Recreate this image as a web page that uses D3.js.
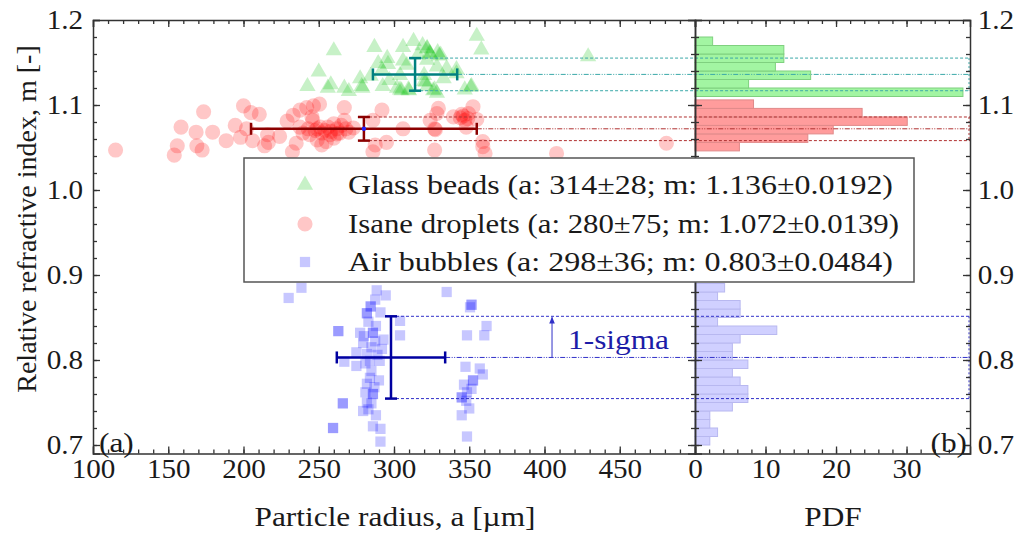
<!DOCTYPE html>
<html>
<head>
<meta charset="utf-8">
<script src="https://cdn.jsdelivr.net/npm/d3@7"></script>
<style>
  body { margin: 0; background: #fff; }
  svg text { font-family: "Liberation Serif", "Times New Roman", serif; fill: #1a1a1a; }
</style>
</head>
<body>
<script>
const w = 1017;
const h = 533;

// scatter points [a (um), m]
const glassPts = [
  [355,1.181],[358,1.165],[260,1.164],[287,1.168],[306,1.168],[313,1.175],[319,1.170],[322,1.167],
  [323.5,1.161],[329,1.162],[331,1.159],[295.5,1.155],[289.5,1.149],[296,1.148],[306,1.152],[308.5,1.147],
  [316,1.159],[322,1.153],[328.5,1.145],[335,1.143],[341.5,1.142],[250,1.139],[277.5,1.131],[284.5,1.134],
  [292,1.141],[297,1.129],[304,1.135],[320,1.135],[333,1.131],[242.5,1.122],[256,1.120],[258,1.124],
  [267,1.120],[270,1.116],[279,1.120],[278.5,1.122],[292.5,1.122],[302,1.120],[304,1.118],[309.5,1.118],
  [322,1.122],[327,1.118],[328.5,1.114],[347,1.118],[351.5,1.122],[429,1.157],[320,1.128],[341.5,1.137],
  [324,1.160],[330,1.158],[305,1.117],[310,1.117],[326,1.117],[351,1.121],[321,1.127],[322,1.166]
];
const dropPts = [
  [115,1.047],[154,1.041],[156,1.052],[158.5,1.074],[168.5,1.068],[169,1.052],[172.5,1.047],[173.5,1.092],
  [179.5,1.068],[188.5,1.058],[194.5,1.076],[200,1.099],[205,1.091],[210.5,1.089],[202,1.072],[198,1.062],
  [206,1.058],[214,1.052],[216.5,1.056],[216,1.065],[224,1.063],[229,1.081],[233,1.088],[235,1.055],
  [232.5,1.045],[237.5,1.094],[242,1.097],[246.5,1.099],[250.5,1.101],[245.5,1.086],[237.5,1.074],
  [246,1.082],[239.5,1.067],[244,1.065],[247.5,1.070],[251,1.074],[252,1.067],[254,1.070],[257.5,1.065],
  [260,1.078],[262,1.072],[264,1.067],[267,1.097],[267,1.082],[268,1.072],[249,1.059],[255,1.057],
  [252,1.053],[260,1.061],[273,1.073],[286,1.082],[287.5,1.053],[286,1.045],[292,1.094],[295,1.056],
  [306,1.072],[324,1.082],[327,1.072],[327.5,1.071],[329.5,1.096],[328.5,1.090],[327,1.047],[339.5,1.086],
  [344,1.085],[346,1.087],[347,1.082],[349,1.084],[345,1.089],[349.5,1.090],[352.5,1.098],[355,1.083],
  [348,1.074],[359,1.057],[359,1.051],[360.5,1.043],[408,1.043],[481,1.055],
  [256,1.074],[258,1.069],[249,1.072],[262,1.066],[243,1.072],[265,1.076],[270,1.068]
];
const bubblePts = [
  [230,0.873],[238.5,0.885],[288.5,0.882],[294.5,0.876],[287.5,0.871],[284.5,0.863],[282,0.855],[291,0.856],
  [263,0.834],[277.5,0.832],[286,0.832],[287.5,0.822],[293,0.824],[279.5,0.820],[285,0.815],[292,0.813],
  [275,0.809],[282,0.807],[267,0.798],[275,0.793],[284,0.799],[290.5,0.799],[285,0.787],[284,0.779],
  [290,0.776],[282,0.772],[281,0.762],[286,0.760],[266,0.749],[282,0.750],[285,0.749],[279.5,0.740],
  [288,0.735],[259.5,0.720],[286,0.722],[291,0.719],[291,0.704],[304,0.846],[304,0.829],
  [351.5,0.865],[350.5,0.862],[361.5,0.840],[348.5,0.829],[360,0.829],[347.5,0.792],[357,0.790],
  [359,0.783],[352.5,0.776],[346.5,0.771],[351.5,0.766],[348.5,0.762],[345,0.756],[348,0.752],
  [350,0.743],[345,0.735],[348.5,0.710],[335,0.880],
  [284.5,0.863],[282,0.855],[263,0.834],[286,0.832],[286,0.760],[266,0.749],[259.5,0.720],
  [351.5,0.865],[352.5,0.776],[345,0.756],
  [283,0.845],[288,0.840],[280,0.828],[289,0.806],[281,0.796],[287,0.768],[283,0.742]
];

// histograms: lower bin edge of m, PDF value (bins 0.01 wide)
const glassBins = [1.11,1.12,1.13,1.14,1.15,1.16,1.17];
const glassPdf  = [38.0,7.6,16.4,11.4,12.6,12.6,2.5];
const dropBins  = [1.046,1.056,1.066,1.076,1.086,1.096];
const dropPdf   = [6.3,16.0,19.6,30.1,23.7,8.3];
const bubbleBins = [0.70,0.71,0.72,0.73,0.74,0.75,0.76,0.77,0.78,0.79,0.80,0.81,0.82,0.83,0.84,0.85,0.86,0.87,0.88];
const bubblePdf  = [2.1,3.2,2.1,2.1,5.3,7.5,7.5,6.4,5.3,7.5,5.3,5.3,6.4,11.6,3.2,6.4,6.4,3.2,4.2];

// statistics
const groups = ["Glass beads","Isane droplets","Air bubbles"];
const meanA = [314,280,298];
const sdA   = [28,75,36];
const meanM = [1.136,1.072,0.803];
const sdM   = [0.0192,0.0139,0.0484];

// axis ticks
const aTicks = [100,150,200,250,300,350,400,450];
const mTicks = [0.7,0.8,0.9,1.0,1.1,1.2];
const pdfTicks = [0,10,20,30];

const sigmaArrowA = 405; // position of the 1-sigma arrow

const svg = d3.select("body").append("svg").attr("width", w).attr("height", h);

const xA = d3.scaleLinear().domain([100, 500]).range([93, 695]);
const xP = d3.scaleLinear().domain([0, 39]).range([695, 970]);
const y = d3.scaleLinear().domain([0.69, 1.2]).range([453.5, 20]);

const fills = ["#00c000", "#ff0000", "#0000ff"];
const barFill = ["#a2f5a2", "#ff9c9c", "#d0d0ff"];
const barStroke = ["#7fd07f", "#e08a8a", "#b8b8f0"];
const errCol = ["#008080", "#8b0000", "#0000a0"];
const lineCol = ["#3aa8a8", "#b03030", "#3030c8"];

const fontSize = 28;
const tickFont = 26.5;
const stretch = "scale(1.12,1)";     // text in the picture is a little wider than the font
const tickStretch = "scale(1.1,1)";

// histograms
const hists = [[glassBins, glassPdf], [dropBins, dropPdf], [bubbleBins, bubblePdf]];
hists.forEach(([bins, pdf], gi) => {
  svg.append("g").selectAll("rect")
    .data(bins.map((b, i) => [b, pdf[i]]))
    .enter()
    .append("rect")
    .attr("x", xP(0))
    .attr("y", d => y(d[0] + 0.01))
    .attr("width", d => xP(d[1]) - xP(0))
    .attr("height", d => y(d[0]) - y(d[0] + 0.01))
    .attr("fill", barFill[gi])
    .attr("stroke", barStroke[gi])
    .attr("stroke-width", 1);
});

// scatter
const sym = [d3.symbolTriangle, d3.symbolCircle, d3.symbolSquare];
const symSize = [115, 180, 105];
[glassPts, dropPts, bubblePts].forEach((pts, gi) => {
  svg.append("g").selectAll("path")
    .data(pts)
    .enter()
    .append("path")
    .attr("d", d3.symbol().type(sym[gi]).size(symSize[gi]))
    .attr("transform", d => "translate(" + xA(d[0]) + "," + y(d[1]) + ")")
    .attr("fill", fills[gi])
    .attr("fill-opacity", 0.22);
});

// mean / sigma reference lines
groups.forEach((g, gi) => {
  const gl = svg.append("g").attr("stroke", lineCol[gi]).attr("stroke-width", 1).attr("fill", "none");
  [meanM[gi] + sdM[gi], meanM[gi] - sdM[gi]].forEach(m => {
    gl.append("line")
      .attr("x1", xA(meanA[gi])).attr("x2", xP(39))
      .attr("y1", y(m)).attr("y2", y(m))
      .attr("stroke-dasharray", "3,2");
  });
  gl.append("line")
    .attr("x1", xA(meanA[gi] + sdA[gi])).attr("x2", xP(39))
    .attr("y1", y(meanM[gi])).attr("y2", y(meanM[gi]))
    .attr("stroke-dasharray", "5,1.5,1,1.5,1,1.5");
  gl.append("line")
    .attr("x1", xP(39) - 1).attr("x2", xP(39) - 1)
    .attr("y1", y(meanM[gi] + sdM[gi])).attr("y2", y(meanM[gi] - sdM[gi]))
    .attr("stroke-dasharray", "2,2");
});

// error bars
groups.forEach((g, gi) => {
  const ge = svg.append("g").attr("stroke", errCol[gi]).attr("stroke-width", 2.5);
  const cx = xA(meanA[gi]), cy = y(meanM[gi]);
  const x0 = xA(meanA[gi] - sdA[gi]), x1 = xA(meanA[gi] + sdA[gi]);
  const y0 = y(meanM[gi] - sdM[gi]), y1 = y(meanM[gi] + sdM[gi]);
  ge.append("line").attr("x1", x0).attr("x2", x1).attr("y1", cy).attr("y2", cy);
  ge.append("line").attr("x1", cx).attr("x2", cx).attr("y1", y0).attr("y2", y1);
  [x0, x1].forEach(x => ge.append("line").attr("x1", x).attr("x2", x).attr("y1", cy - 6).attr("y2", cy + 6));
  [y0, y1].forEach(yy => ge.append("line").attr("x1", cx - 6).attr("x2", cx + 6).attr("y1", yy).attr("y2", yy));
});
svg.append("circle").attr("cx", xA(meanA[1])).attr("cy", y(meanM[1])).attr("r", 2.2).attr("fill", "#2020ff");

// axes
function styleAxis(g) {
  g.selectAll(".domain").attr("stroke", "#333").attr("stroke-width", 1.5);
  g.selectAll(".tick line").attr("stroke", "#333").attr("stroke-width", 1.3);
  g.selectAll("text").attr("font-size", tickFont).attr("fill", "#1a1a1a")
    .attr("font-family", "'Liberation Serif', 'Times New Roman', serif")
    .attr("transform", tickStretch);
}
function minor(axis, vals) {
  return axis.tickValues(vals).tickSize(-4).tickFormat("");
}
const aMinor = d3.range(110, 500, 10);
const mMinor = d3.range(0.70, 1.2, 0.02);
const pMinor = d3.range(2, 39, 2);
const yb = y(0.69);

// left panel
svg.append("g").attr("transform", "translate(0," + yb + ")")
  .call(d3.axisBottom(xA).tickValues(aTicks).tickSize(-7).tickPadding(6)).call(styleAxis);
svg.append("g").attr("transform", "translate(0," + yb + ")")
  .call(minor(d3.axisBottom(xA), aMinor)).call(styleAxis).select(".domain").remove();
svg.append("g").attr("transform", "translate(0,20)")
  .call(d3.axisTop(xA).tickValues(aTicks).tickSize(-7).tickFormat("")).call(styleAxis);
svg.append("g").attr("transform", "translate(0,20)")
  .call(minor(d3.axisTop(xA), aMinor)).call(styleAxis).select(".domain").remove();
svg.append("g").attr("transform", "translate(93,0)")
  .call(d3.axisLeft(y).tickValues(mTicks).tickSize(-7).tickPadding(9).tickFormat(d3.format(".1f"))).call(styleAxis);
svg.append("g").attr("transform", "translate(93,0)")
  .call(minor(d3.axisLeft(y), mMinor)).call(styleAxis).select(".domain").remove();
svg.append("g").attr("transform", "translate(695,0)")
  .call(d3.axisRight(y).tickValues(mTicks).tickSize(-7).tickFormat("")).call(styleAxis);
svg.append("g").attr("transform", "translate(695,0)")
  .call(minor(d3.axisRight(y), mMinor)).call(styleAxis).select(".domain").remove();

// right panel
svg.append("g").attr("transform", "translate(0," + yb + ")")
  .call(d3.axisBottom(xP).tickValues(pdfTicks).tickSize(-7).tickPadding(6)).call(styleAxis);
svg.append("g").attr("transform", "translate(0," + yb + ")")
  .call(minor(d3.axisBottom(xP), pMinor)).call(styleAxis).select(".domain").remove();
svg.append("g").attr("transform", "translate(0,20)")
  .call(d3.axisTop(xP).tickValues(pdfTicks).tickSize(-7).tickFormat("")).call(styleAxis);
svg.append("g").attr("transform", "translate(0,20)")
  .call(minor(d3.axisTop(xP), pMinor)).call(styleAxis).select(".domain").remove();
svg.append("g").attr("transform", "translate(695,0)")
  .call(d3.axisLeft(y).tickValues(mTicks).tickSize(-7).tickFormat("")).call(styleAxis);
svg.append("g").attr("transform", "translate(695,0)")
  .call(minor(d3.axisLeft(y), mMinor)).call(styleAxis).select(".domain").remove();
svg.append("g").attr("transform", "translate(970,0)")
  .call(d3.axisRight(y).tickValues(mTicks).tickSize(-7).tickPadding(7).tickFormat(d3.format(".1f"))).call(styleAxis);
svg.append("g").attr("transform", "translate(970,0)")
  .call(minor(d3.axisRight(y), mMinor)).call(styleAxis).select(".domain").remove();

// plain text helper, stretched like the picture
function label(x, yy, txt, anchor) {
  return svg.append("text")
    .attr("transform", "translate(" + x + "," + yy + ") " + stretch)
    .attr("text-anchor", anchor || "start")
    .attr("font-size", fontSize)
    .text(txt);
}

// axis titles
label(395, 526, "Particle radius, a [\u00b5m]", "middle");
label(833, 526, "PDF", "middle");
svg.append("text").attr("transform", "translate(36,219) rotate(-90)").attr("text-anchor", "middle")
  .attr("font-size", fontSize).text("Relative refractive index, m [-]");

label(99, 452, "(a)");
label(967, 452, "(b)", "end");

// 1-sigma annotation
svg.append("defs").append("marker")
  .attr("id", "arr").attr("viewBox", "0 0 10 10").attr("refX", 9).attr("refY", 5)
  .attr("markerWidth", 7).attr("markerHeight", 7).attr("orient", "auto")
  .append("path").attr("d", "M0,1 L10,5 L0,9 Z").attr("fill", "#3030c8");
svg.append("line")
  .attr("x1", xA(sigmaArrowA)).attr("x2", xA(sigmaArrowA))
  .attr("y1", y(meanM[2])).attr("y2", y(meanM[2] + sdM[2]) + 1)
  .attr("stroke", "#3030c8").attr("stroke-width", 1).attr("marker-end", "url(#arr)");
label(xA(sigmaArrowA) + 16, 349, "1-sigma").style("fill", "#1c1ca8");

// legend
const lg = svg.append("g");
lg.append("rect").attr("x", 244).attr("y", 158).attr("width", 670).attr("height", 124)
  .attr("fill", "#fff").attr("stroke", "#555").attr("stroke-width", 1.5);
const rowY = [185, 224, 262];
const rowLen = [545, 551, 545];
groups.forEach((g, gi) => {
  lg.append("path")
    .attr("d", d3.symbol().type(sym[gi]).size(symSize[gi]))
    .attr("transform", "translate(305," + rowY[gi] + ")")
    .attr("fill", fills[gi]).attr("fill-opacity", 0.22);
  lg.append("text")
    .attr("x", 348).attr("y", rowY[gi] + 9)
    .attr("font-size", fontSize)
    .attr("textLength", rowLen[gi])
    .attr("lengthAdjust", "spacingAndGlyphs")
    .text(g + " (a: " + meanA[gi] + "\u00b1" + sdA[gi] + "; m: " + meanM[gi].toFixed(3) + "\u00b1" + sdM[gi] + ")");
});
</script>
</body>
</html>
